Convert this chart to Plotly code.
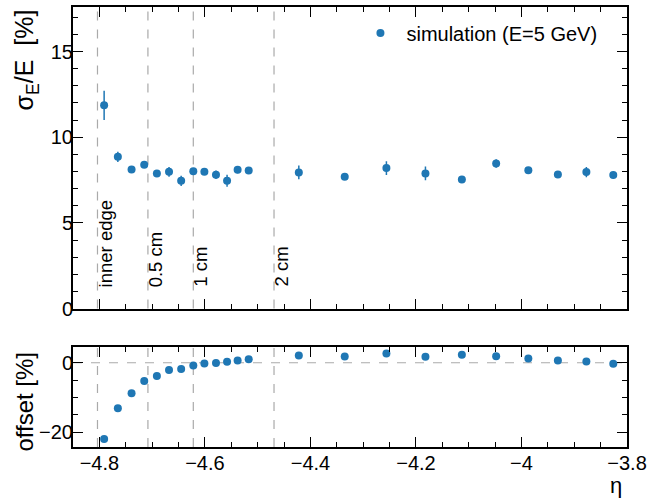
import plotly.graph_objects as go

# ---- data ----
eta = [-4.791, -4.765, -4.739, -4.715, -4.691, -4.668, -4.645, -4.622, -4.601,
       -4.579, -4.558, -4.538, -4.517, -4.422, -4.335, -4.256, -4.182, -4.113,
       -4.048, -3.987, -3.931, -3.877, -3.826]
resolution = [11.86, 8.86, 8.12, 8.39, 7.89, 7.98, 7.46, 8.02, 7.98,
              7.81, 7.46, 8.10, 8.06, 7.95, 7.69, 8.20, 7.89, 7.54,
              8.47, 8.08, 7.83, 7.97, 7.79]
resolution_err = [0.85, 0.30, 0.12, 0.12, 0.20, 0.28, 0.30, 0.12, 0.12,
                  0.25, 0.35, 0.20, 0.12, 0.40, 0.12, 0.40, 0.40, 0.12,
                  0.25, 0.15, 0.12, 0.30, 0.20]
offset = [-22.0, -13.1, -8.8, -5.25, -3.8, -2.1, -1.8, -0.8, -0.2,
          -0.1, 0.3, 0.66, 1.03, 2.1, 1.8, 2.66, 1.7, 2.3,
          1.9, 1.23, 0.66, 0.37, -0.3]
edge_eta = [-4.8036, -4.708, -4.622, -4.469]
edge_labels = ["inner edge", "0.5 cm", "1 cm", "2 cm"]
legend_label = "simulation (E=5 GeV)"

BLUE = "#1f77b4"
FONT = "Liberation Sans, Arial, Helvetica, sans-serif"

fig = go.Figure()
fig.add_trace(go.Scatter(
    x=eta, y=resolution, mode="markers", name=legend_label,
    marker=dict(color=BLUE, size=8),
    error_y=dict(type="data", array=resolution_err, color=BLUE, thickness=1.5, width=0),
    xaxis="x", yaxis="y"))
fig.add_trace(go.Scatter(
    x=eta, y=offset, mode="markers", showlegend=False,
    marker=dict(color=BLUE, size=8),
    xaxis="x2", yaxis="y2"))

shapes = []
annotations = []
for xe, lab in zip(edge_eta, edge_labels):
    for xr, yr in (("x", "y domain"), ("x2", "y2 domain")):
        shapes.append(dict(type="line", xref=xr, yref=yr, x0=xe, x1=xe, y0=0, y1=1,
                           line=dict(color="#aaaaaa", width=1.2, dash="dash"), layer="below"))
    annotations.append(dict(x=xe, y=1.15, xref="x", yref="y", text=lab, textangle=-90,
                            showarrow=False, xanchor="left", yanchor="bottom", xshift=-5,
                            font=dict(size=18.5, color="black", family=FONT)))
shapes.append(dict(type="line", xref="x2 domain", yref="y2", x0=0, x1=1, y0=0, y1=0,
                   line=dict(color="#aaaaaa", width=1.2, dash="dash"), layer="below"))

annotations.append(dict(x=-0.085, y=1.0, xref="paper", yref="paper",
                        text="σ<sub>E</sub>/E&nbsp;&nbsp;[%]", textangle=-90, showarrow=False,
                        xanchor="center", yanchor="top", font=dict(size=25, color="black", family=FONT)))
annotations.append(dict(x=-0.088, y=0.222, xref="paper", yref="paper",
                        text="offset [%]", textangle=-90, showarrow=False,
                        xanchor="center", yanchor="top", font=dict(size=24, color="black", family=FONT)))
annotations.append(dict(x=0.995, y=-0.054, xref="paper", yref="paper",
                        text="η", showarrow=False,
                        xanchor="right", yanchor="top", font=dict(size=22, color="black", family=FONT)))

common_axis = dict(showline=True, linecolor="black", linewidth=2, mirror="allticks",
                   ticks="inside", ticklen=10, tickwidth=1.2, tickcolor="black",
                   showgrid=False, zeroline=False,
                   tickfont=dict(size=20, color="black", family=FONT))

fig.update_layout(
    width=672, height=500,
    margin=dict(l=73, r=45, t=5, b=53),
    paper_bgcolor="white", plot_bgcolor="white",
    font=dict(family=FONT, color="black"),
    showlegend=True,
    legend=dict(x=0.508, y=0.985, xanchor="left", yanchor="top", bgcolor="rgba(0,0,0,0)",
                itemwidth=42,
                font=dict(size=20, color="black", family=FONT)),
    xaxis=dict(common_axis, domain=[0, 1], range=[-4.85, -3.8], anchor="y",
               matches="x2", showticklabels=False, dtick=0.2, tick0=-4.8,
               minor=dict(dtick=0.05, ticks="inside", ticklen=5, tickcolor="black", showgrid=False)),
    yaxis=dict(common_axis, domain=[0.3145, 1], range=[0, 17.6], anchor="x",
               dtick=5, tick0=0, ticklabelstandoff=-6,
               minor=dict(dtick=1, ticks="inside", ticklen=5, tickcolor="black", showgrid=False)),
    xaxis2=dict(common_axis, domain=[0, 1], range=[-4.85, -3.8], anchor="y2",
                dtick=0.2, tick0=-4.8, ticklabelstandoff=-3,
                minor=dict(dtick=0.05, ticks="inside", ticklen=5, tickcolor="black", showgrid=False)),
    yaxis2=dict(common_axis, domain=[0, 0.227], range=[-24.3, 4.5], anchor="x2",
                dtick=20, tick0=0, ticklabelstandoff=-6,
                minor=dict(dtick=5, ticks="inside", ticklen=5, tickcolor="black", showgrid=False)),
    shapes=shapes, annotations=annotations,
)

fig.write_html("out.html", config={"displayModeBar": False},
               post_script="document.body.style.margin='0';document.body.style.padding='0';")
